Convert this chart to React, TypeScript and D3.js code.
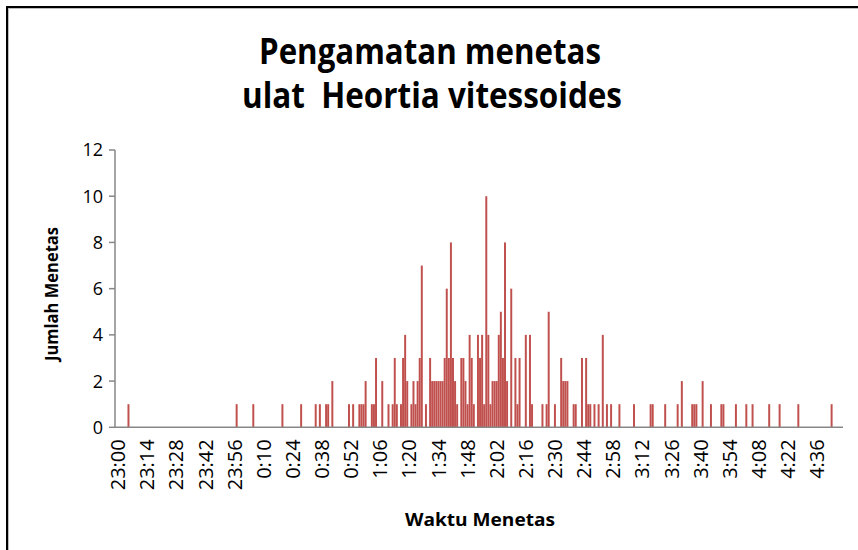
import React from "react";
import * as d3 from "d3";

// hatching times (minute of observation) and number hatched at that minute
const hatchTimes = [
  "23:06", "23:58", "0:06", "0:20", "0:29", "0:36", "0:38", "0:41", "0:42", "0:44",
  "0:52", "0:54", "0:57", "0:58", "0:59", "1:00", "1:03", "1:04", "1:05", "1:08",
  "1:11", "1:13", "1:14", "1:15", "1:17", "1:18", "1:19", "1:20", "1:22", "1:23",
  "1:24", "1:25", "1:26", "1:27", "1:29", "1:31", "1:32", "1:33", "1:34", "1:35",
  "1:36", "1:37", "1:38", "1:39", "1:40", "1:41", "1:42", "1:43", "1:44", "1:46",
  "1:47", "1:48", "1:49", "1:50", "1:51", "1:52", "1:54", "1:55", "1:56", "1:57",
  "1:58", "1:59", "2:00", "2:01", "2:02", "2:03", "2:04", "2:05", "2:06", "2:07",
  "2:08", "2:10", "2:12", "2:13", "2:14", "2:17", "2:19", "2:20", "2:25", "2:27",
  "2:28", "2:31", "2:34", "2:35", "2:36", "2:37", "2:40", "2:41", "2:44", "2:46",
  "2:47", "2:48", "2:50", "2:52", "2:54", "2:56", "2:58", "3:02", "3:09", "3:17",
  "3:18", "3:24", "3:30", "3:32", "3:37", "3:38", "3:39", "3:42", "3:46", "3:51",
  "3:52", "3:58", "4:03", "4:06", "4:14", "4:19", "4:28", "4:44",
];
const hatchCounts = [
  1, 1, 1, 1, 1, 1, 1, 1, 1, 2,
  1, 1, 1, 1, 1, 2, 1, 1, 3, 2,
  1, 1, 3, 1, 1, 3, 4, 2, 1, 2,
  1, 2, 3, 7, 1, 3, 2, 2, 2, 2,
  2, 2, 3, 6, 3, 8, 3, 2, 1, 3,
  3, 2, 1, 4, 3, 1, 4, 3, 4, 1,
  10, 4, 1, 2, 2, 2, 4, 5, 3, 8,
  2, 6, 3, 1, 3, 4, 4, 1, 1, 1,
  5, 1, 3, 2, 2, 2, 1, 1, 3, 3,
  1, 1, 1, 1, 4, 1, 1, 1, 1, 1,
  1, 1, 1, 2, 1, 1, 1, 2, 1, 1,
  1, 1, 1, 1, 1, 1, 1, 1,
];
const yTicks = [0, 2, 4, 6, 8, 10, 12];
const tickEvery = 14; // a label every 14 minutes

// every minute from 23:00 to 4:49 is a category
const categories: string[] = d3.range(350).map((i) => {
  const t = 23 * 60 + i;
  const h = Math.floor(t / 60) % 24;
  const m = t % 60;
  return `${h}:${m < 10 ? "0" + m : m}`;
});

const width = 858, height = 550;
const margin = { top: 150, right: 15, bottom: 122.7, left: 115 };

export default function App() {
  const x = d3.scaleBand<string>()
    .domain(categories)
    .range([margin.left, width - margin.right])
    .paddingInner(0.05);

  const y = d3.scaleLinear()
    .domain([0, 12])
    .range([height - margin.bottom, margin.top]);

  const font = "'Open Sans', sans-serif";
  const axisColor = "#878787";
  const y0 = y(0);

  return (
    <svg width={width} height={height}
      style={{ position: "absolute", left: 0, top: 0, background: "#fff" }}>
      <rect x={0} y={0} width={width} height={height} fill="#fff" />
      {/* chart frame */}
      <rect x={8} y={8} width={width + 20} height={height + 20} fill="none" stroke="#bdbdbd" strokeWidth={2} />
      <rect x={7} y={7} width={width + 20} height={height + 20} fill="none" stroke="#000" strokeWidth={2} />

      {/* title */}
      <text x={430} y={64} textAnchor="middle" fontFamily={font} fontWeight="bold" fontSize={35}
        textLength={342} lengthAdjust="spacingAndGlyphs" fill="#000">Pengamatan menetas</text>
      <text x={432} y={108} textAnchor="middle" fontFamily={font} fontWeight="bold" fontSize={35}
        textLength={380} lengthAdjust="spacingAndGlyphs" fill="#000" style={{ whiteSpace: "pre" }}>ulat  Heortia vitessoides</text>

      {/* bars */}
      {hatchTimes.map((t, i) => (
        <rect key={t} x={x(t)} width={x.bandwidth()} y={y(hatchCounts[i])}
          height={y0 - y(hatchCounts[i])} fill="#C0504D" />
      ))}

      {/* y axis */}
      <line x1={margin.left} x2={margin.left} y1={y(12)} y2={y0} stroke={axisColor} strokeWidth={1.5} />
      {yTicks.map((v) => (
        <g key={v}>
          <line x1={margin.left - 6} x2={margin.left} y1={y(v)} y2={y(v)} stroke={axisColor} strokeWidth={1.5} />
          <text x={103} y={y(v)} dy="0.36em" textAnchor="end" fontFamily={font} fontSize={18} fill="#000">{v}</text>
        </g>
      ))}

      {/* x axis */}
      <line x1={margin.left} x2={width - margin.right} y1={y0} y2={y0} stroke={axisColor} strokeWidth={1.5} />
      {categories.filter((_, i) => i % tickEvery === 0).map((c) => {
        const cx = (x(c) ?? 0) + x.bandwidth() / 2 + 2;
        return (
          <text key={c} transform={`translate(${cx},${y0 + 12}) rotate(-90)`} textAnchor="end"
            dy="0.36em" fontFamily={font} fontSize={20} fill="#000">{c}</text>
        );
      })}

      {/* axis titles */}
      <text transform={`translate(58,294) rotate(-90)`} textAnchor="middle" fontFamily={font}
        fontWeight="bold" fontSize={17} textLength={134} lengthAdjust="spacingAndGlyphs" fill="#000">Jumlah Menetas</text>
      <text x={480} y={526} textAnchor="middle" fontFamily={font} fontWeight="bold" fontSize={17}
        textLength={150} lengthAdjust="spacingAndGlyphs" fill="#000">Waktu Menetas</text>
    </svg>
  );
}
